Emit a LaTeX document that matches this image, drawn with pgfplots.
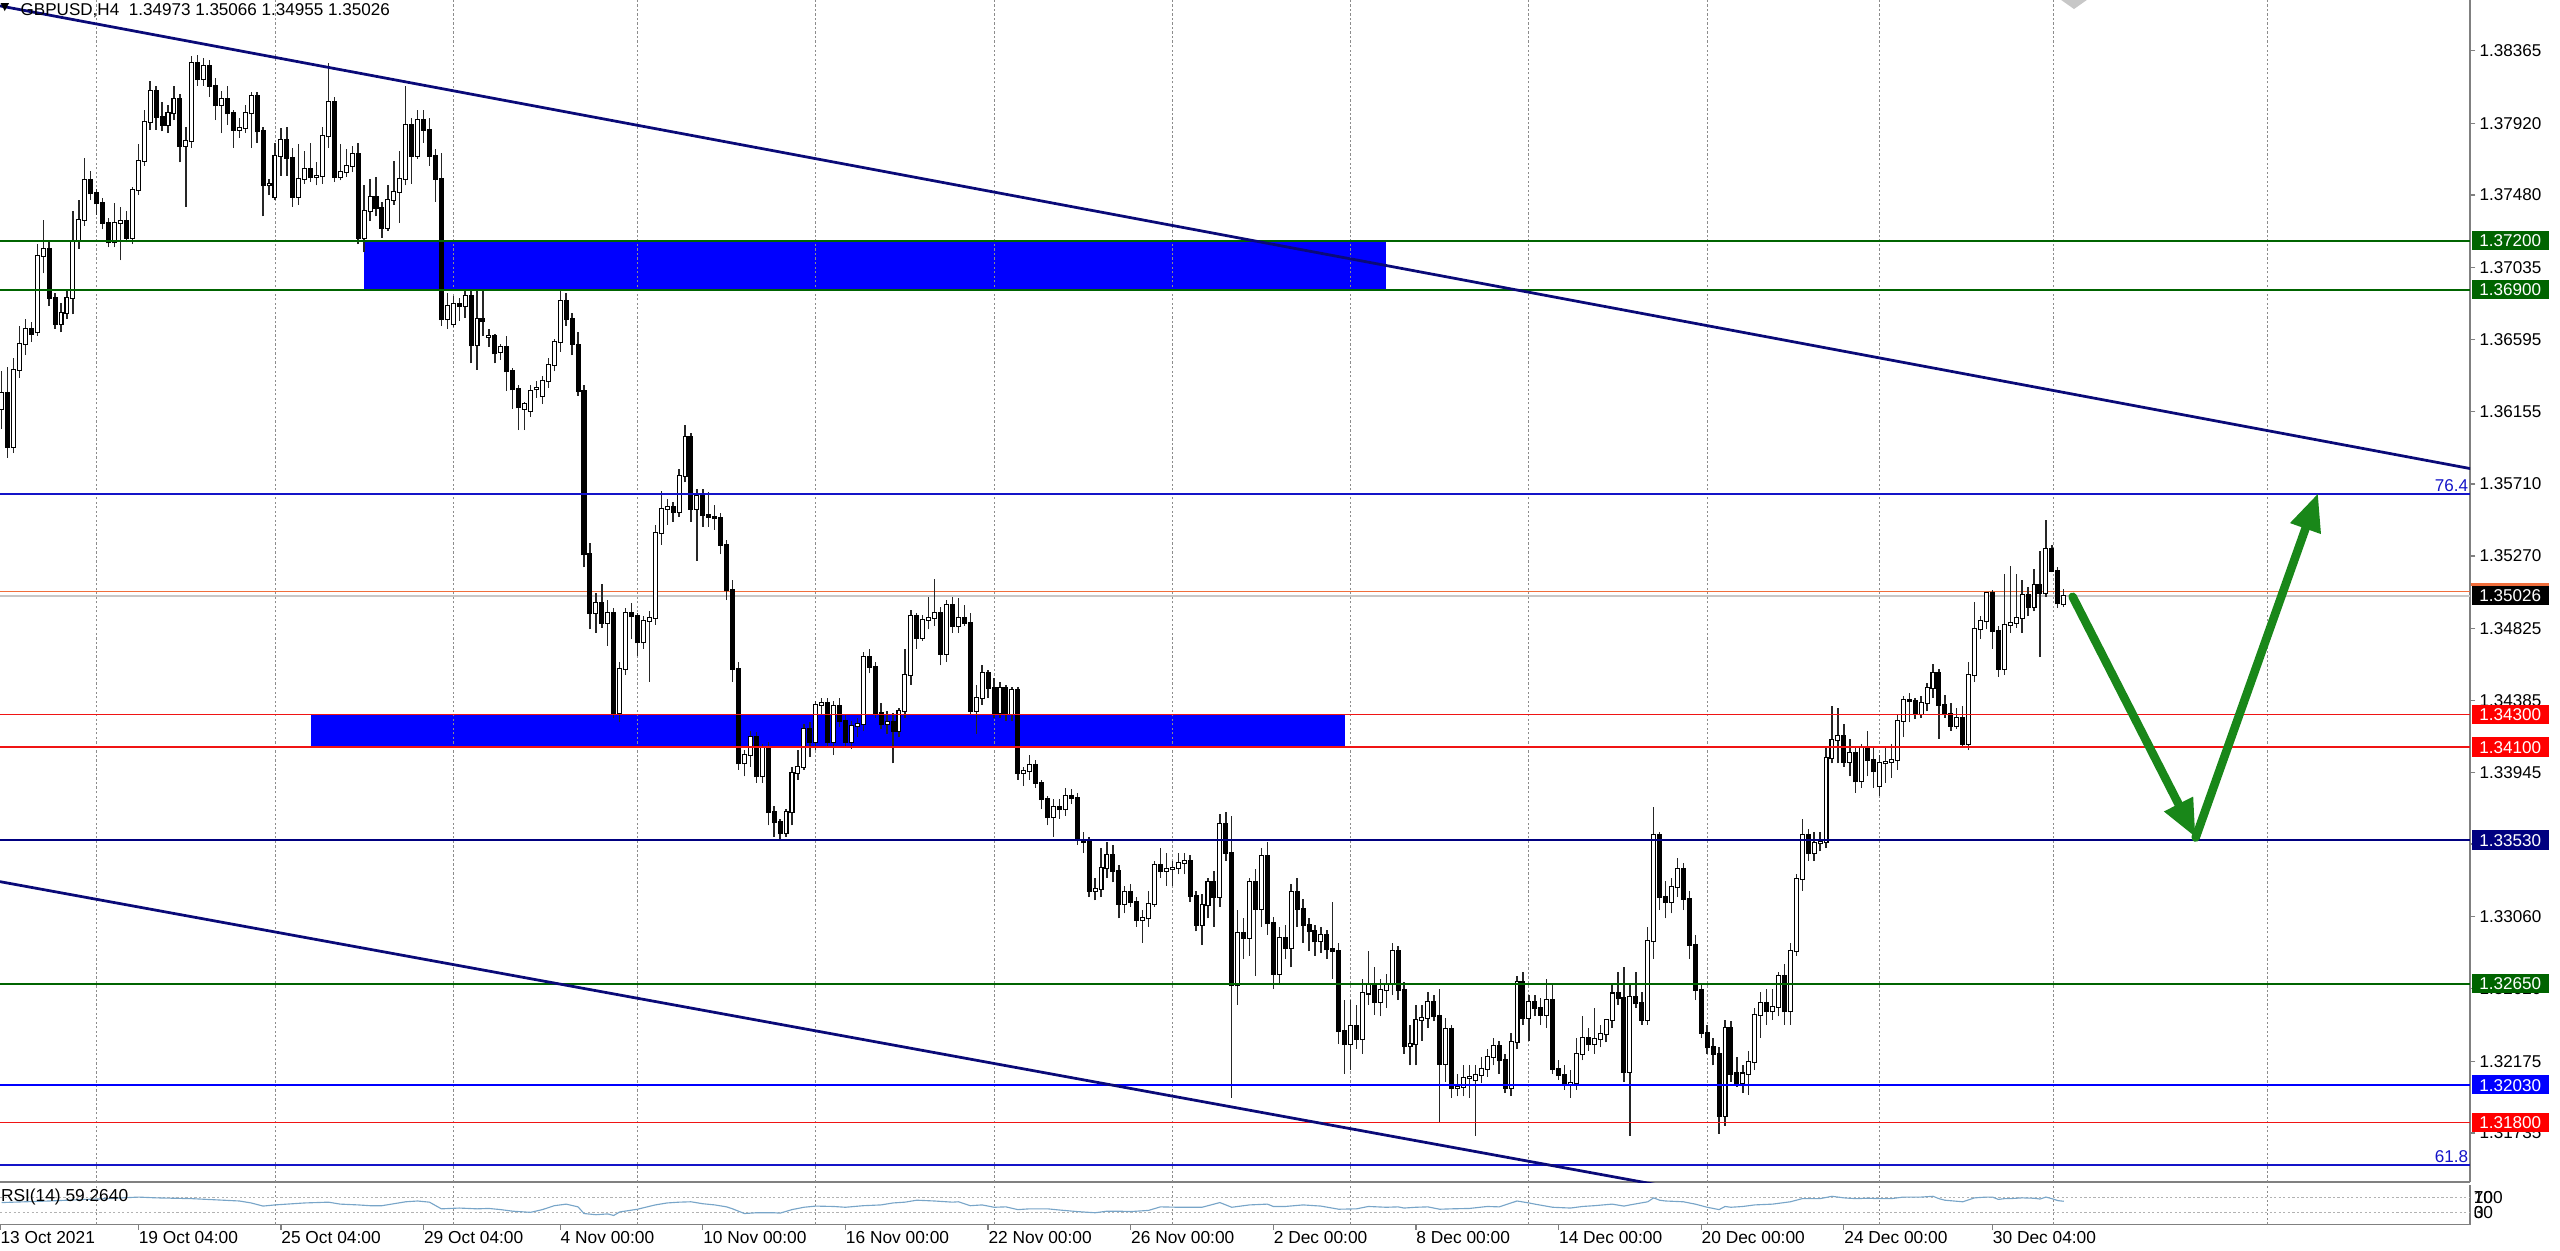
\documentclass[border=0pt]{standalone}
\usepackage{fontspec}
\setmainfont{Liberation Sans}
\usepackage{pgfplots}
\usepackage{pgfplotstable}
\pgfplotsset{compat=1.18}
\usetikzlibrary{arrows.meta}

\definecolor{fxnavy}{RGB}{0,0,128}
\definecolor{trendnavy}{RGB}{10,10,120}
\definecolor{fxgreen}{RGB}{0,100,0}
\definecolor{fxred}{RGB}{240,20,20}
\definecolor{boxred}{RGB}{255,0,0}
\definecolor{fxblue}{RGB}{0,0,255}
\definecolor{fibblue}{RGB}{20,20,200}
\definecolor{arrowgreen}{RGB}{25,135,25}
\definecolor{rsiline}{RGB}{120,165,200}
\definecolor{axisgray}{RGB}{128,128,128}
\definecolor{gridgray}{RGB}{140,140,140}
\definecolor{askorange}{RGB}{240,110,60}

\newcommand\pricefont{\fontsize{6.8}{7.5}\selectfont}
\newcommand\timefont{\fontsize{6.9}{7.5}\selectfont}

\tikzset{
  gridline/.style={gridgray, line width=0.35pt, dash pattern=on 0.9pt off 0.9pt},
  pricebox/.style={anchor=west, xshift=0.4pt, text=white, inner xsep=3pt, inner ysep=0pt,
    minimum height=7.6pt, text height=4.9pt, text depth=0pt, font=\pricefont},
}

% GBPUSD H4 candles, x = bar number
\pgfplotstableread{
i o h l c
0 1.3617 1.3640 1.3605 1.3627
1 1.3627 1.3643 1.3587 1.3594
2 1.3594 1.3648 1.3590 1.3641
3 1.3641 1.3668 1.3636 1.3657
4 1.3657 1.3672 1.3650 1.3666
5 1.3666 1.3670 1.3658 1.3663
6 1.3664 1.3718 1.3662 1.3711
7 1.3711 1.3733 1.3700 1.3715
8 1.3715 1.3720 1.3680 1.3685
9 1.3685 1.3688 1.3666 1.3669
10 1.3669 1.3682 1.3664 1.3676
11 1.3676 1.3690 1.3672 1.3685
12 1.3685 1.3738 1.3675 1.3720
13 1.3720 1.3745 1.3715 1.3733
14 1.3733 1.3771 1.3729 1.3757
15 1.3757 1.3763 1.3745 1.3749
16 1.3749 1.3752 1.3736 1.3743
17 1.3743 1.3746 1.3727 1.3731
18 1.3731 1.3734 1.3716 1.3719
19 1.3719 1.3743 1.3716 1.3731
20 1.3731 1.3741 1.3708 1.3732
21 1.3732 1.3738 1.3719 1.3722
22 1.3722 1.3753 1.3718 1.3751
23 1.3751 1.3779 1.3748 1.3769
24 1.3769 1.3800 1.3766 1.3793
25 1.3793 1.3818 1.3788 1.3812
26 1.3812 1.3815 1.3788 1.3796
27 1.3796 1.3805 1.3787 1.3791
28 1.3791 1.3803 1.3786 1.3798
29 1.3798 1.3815 1.3794 1.3807
30 1.3807 1.3810 1.3768 1.3778
31 1.3778 1.3790 1.3741 1.3781
32 1.3781 1.3833 1.3777 1.3829
33 1.3829 1.3834 1.3815 1.3819
34 1.3819 1.3832 1.3815 1.3827
35 1.3827 1.3831 1.3808 1.3815
36 1.3815 1.3820 1.3794 1.3803
37 1.3803 1.3812 1.3786 1.3807
38 1.3807 1.3815 1.3791 1.3798
39 1.3798 1.3800 1.3777 1.3788
40 1.3788 1.3795 1.3783 1.3789
41 1.3789 1.3803 1.3786 1.3798
42 1.3798 1.3811 1.3777 1.3809
43 1.3809 1.3811 1.3780 1.3787
44 1.3787 1.3790 1.3735 1.3754
45 1.3754 1.3758 1.3748 1.3755
46 1.3747 1.3780 1.3745 1.3772
47 1.3772 1.3789 1.3760 1.3782
48 1.3782 1.3790 1.3760 1.3771
49 1.3771 1.3777 1.3741 1.3747
50 1.3747 1.3779 1.3742 1.3758
51 1.3758 1.3775 1.3755 1.3764
52 1.3764 1.3780 1.3756 1.3759
53 1.3759 1.3768 1.3754 1.3760
54 1.3760 1.3790 1.3755 1.3784
55 1.3784 1.3829 1.3777 1.3805
56 1.3805 1.3808 1.3756 1.3759
57 1.3759 1.3779 1.3757 1.3762
58 1.3762 1.3776 1.3759 1.3766
59 1.3766 1.3778 1.3762 1.3773
60 1.3773 1.3780 1.3718 1.3722
61 1.3722 1.3754 1.3713 1.3738
62 1.3738 1.3758 1.3732 1.3747
63 1.3747 1.3759 1.3735 1.3740
64 1.3740 1.3744 1.3722 1.3728
65 1.3728 1.3754 1.3726 1.3745
66 1.3745 1.3769 1.3742 1.3750
67 1.3750 1.3775 1.3731 1.3758
68 1.3758 1.3815 1.3754 1.3791
69 1.3791 1.3795 1.3755 1.3772
70 1.3772 1.3800 1.3770 1.3794
71 1.3794 1.3800 1.3780 1.3788
72 1.3788 1.3795 1.3766 1.3772
73 1.3772 1.3776 1.3744 1.3758
74 1.3758 1.3774 1.3668 1.3672
75 1.3672 1.3688 1.3666 1.3680
76 1.3669 1.3686 1.3667 1.3681
77 1.3681 1.3685 1.3671 1.3680
78 1.3680 1.3690 1.3673 1.3686
79 1.3686 1.3690 1.3645 1.3656
80 1.3656 1.3690 1.3641 1.3672
81 1.3672 1.3689 1.3662 1.3671
82 1.3661 1.3666 1.3655 1.3662
83 1.3662 1.3663 1.3645 1.3651
84 1.3652 1.3657 1.3647 1.3655
85 1.3655 1.3662 1.3628 1.3640
86 1.3640 1.3642 1.3617 1.3629
87 1.3629 1.3632 1.3604 1.3618
88 1.3617 1.3621 1.3604 1.3620
89 1.3616 1.3632 1.3612 1.3628
90 1.3629 1.3634 1.3624 1.3630
91 1.3625 1.3637 1.3620 1.3634
92 1.3634 1.3648 1.3630 1.3644
93 1.3644 1.3660 1.3640 1.3658
94 1.3658 1.3690 1.3652 1.3683
95 1.3683 1.3688 1.3668 1.3672
96 1.3672 1.3676 1.3650 1.3657
97 1.3656 1.3664 1.3625 1.3628
98 1.3628 1.3632 1.3520 1.3528
99 1.3528 1.3535 1.3482 1.3492
100 1.3492 1.3504 1.3480 1.3498
101 1.3498 1.3510 1.3483 1.3486
102 1.3486 1.3500 1.3472 1.3492
103 1.3492 1.3495 1.3428 1.3431
104 1.3431 1.3462 1.3425 1.3458
105 1.3458 1.3495 1.3454 1.3492
106 1.3492 1.3498 1.3476 1.3490
107 1.3490 1.3492 1.3466 1.3474
108 1.3474 1.3490 1.3470 1.3487
109 1.3487 1.3493 1.3450 1.3489
110 1.3489 1.3546 1.3485 1.3541
111 1.3541 1.3567 1.3534 1.3556
112 1.3556 1.3562 1.3546 1.3557
113 1.3557 1.3560 1.3548 1.3554
114 1.3554 1.3580 1.3551 1.3576
115 1.3576 1.3607 1.3572 1.3600
116 1.3600 1.3602 1.3548 1.3556
117 1.3556 1.3568 1.3524 1.3564
118 1.3564 1.3568 1.3545 1.3552
119 1.3552 1.3566 1.3545 1.3551
120 1.3551 1.3558 1.3543 1.3550
121 1.3550 1.3553 1.3528 1.3534
122 1.3534 1.3537 1.3500 1.3506
123 1.3506 1.3512 1.3450 1.3458
124 1.3458 1.3462 1.3396 1.3400
125 1.3400 1.3408 1.3392 1.3405
126 1.3405 1.3420 1.3398 1.3416
127 1.3416 1.3419 1.3388 1.3392
128 1.3392 1.3412 1.3388 1.3410
129 1.3410 1.3413 1.3362 1.3370
130 1.3370 1.3374 1.3355 1.3364
131 1.3364 1.3366 1.3353 1.3357
132 1.3357 1.3372 1.3355 1.3370
133 1.3370 1.3398 1.3362 1.3394
134 1.3394 1.3408 1.3390 1.3398
135 1.3398 1.3424 1.3396 1.3421
136 1.3421 1.3425 1.3404 1.3413
137 1.3413 1.3438 1.3408 1.3436
138 1.3436 1.3440 1.3430 1.3437
139 1.3437 1.3440 1.3410 1.3413
140 1.3413 1.3438 1.3405 1.3435
141 1.3435 1.3440 1.3422 1.3426
142 1.3426 1.3430 1.3410 1.3413
143 1.3413 1.3426 1.3409 1.3423
144 1.3423 1.3428 1.3416 1.3424
145 1.3424 1.3468 1.3420 1.3465
146 1.3465 1.3470 1.3455 1.3459
147 1.3459 1.3462 1.3428 1.3431
148 1.3431 1.3437 1.3421 1.3424
149 1.3424 1.3432 1.3418 1.3425
150 1.3425 1.3431 1.3400 1.3420
151 1.3420 1.3434 1.3416 1.3432
152 1.3432 1.3470 1.3428 1.3454
153 1.3454 1.3494 1.3448 1.3490
154 1.3490 1.3492 1.3470 1.3477
155 1.3477 1.3491 1.3475 1.3488
156 1.3488 1.3502 1.3482 1.3489
157 1.3489 1.3513 1.3484 1.3492
158 1.3492 1.3496 1.3460 1.3467
159 1.3467 1.3500 1.3462 1.3497
160 1.3497 1.3502 1.3480 1.3484
161 1.3484 1.3501 1.3480 1.3489
162 1.3489 1.3497 1.3484 1.3486
163 1.3486 1.3492 1.3430 1.3432
164 1.3432 1.3448 1.3418 1.3440
165 1.3440 1.3460 1.3436 1.3455
166 1.3455 1.3457 1.3440 1.3446
167 1.3446 1.3452 1.3428 1.3431
168 1.3431 1.3450 1.3428 1.3446
169 1.3446 1.3448 1.3426 1.3430
170 1.3430 1.3447 1.3426 1.3445
171 1.3445 1.3447 1.3390 1.3394
172 1.3394 1.3398 1.3386 1.3395
173 1.3395 1.3405 1.3390 1.3399
174 1.3399 1.3402 1.3385 1.3388
175 1.3388 1.3390 1.3372 1.3378
176 1.3378 1.3380 1.3362 1.3367
177 1.3367 1.3378 1.3355 1.3373
178 1.3373 1.3378 1.3366 1.3372
179 1.3372 1.3385 1.3368 1.3380
180 1.3380 1.3384 1.3375 1.3379
181 1.3379 1.3382 1.3350 1.3353
182 1.3353 1.3358 1.3345 1.3352
183 1.3352 1.3355 1.3318 1.3322
184 1.3322 1.3330 1.3316 1.3323
185 1.3323 1.3348 1.3318 1.3336
186 1.3336 1.3352 1.3330 1.3344
187 1.3344 1.3350 1.3327 1.3334
188 1.3334 1.3338 1.3305 1.3314
189 1.3314 1.3325 1.3308 1.3321
190 1.3321 1.3326 1.3312 1.3315
191 1.3315 1.3318 1.3300 1.3304
192 1.3304 1.3310 1.3290 1.3305
193 1.3305 1.3322 1.3300 1.3314
194 1.3314 1.3340 1.3312 1.3338
195 1.3338 1.3348 1.3330 1.3334
196 1.3334 1.3345 1.3325 1.3335
197 1.3335 1.3340 1.3325 1.3336
198 1.3336 1.3345 1.3332 1.3339
199 1.3339 1.3345 1.3332 1.3340
200 1.3340 1.3344 1.3315 1.3319
201 1.3319 1.3322 1.3297 1.3301
202 1.3301 1.3320 1.3289 1.3313
203 1.3313 1.3330 1.3305 1.3327
204 1.3327 1.3334 1.3300 1.3318
205 1.3318 1.3369 1.3312 1.3363
206 1.3363 1.3370 1.3340 1.3345
207 1.3345 1.3368 1.3195 1.3264
208 1.3264 1.3310 1.3252 1.3296
209 1.3296 1.3305 1.3280 1.3293
210 1.3293 1.3330 1.3282 1.3327
211 1.3327 1.3335 1.3270 1.3311
212 1.3311 1.3348 1.3300 1.3343
213 1.3343 1.3352 1.3295 1.3302
214 1.3302 1.3306 1.3262 1.3271
215 1.3271 1.3300 1.3265 1.3293
216 1.3293 1.3301 1.3280 1.3287
217 1.3287 1.3326 1.3275 1.3321
218 1.3321 1.3330 1.3300 1.3311
219 1.3311 1.3317 1.3290 1.3301
220 1.3301 1.3305 1.3285 1.3297
221 1.3297 1.3301 1.3282 1.3291
222 1.3291 1.3300 1.3284 1.3295
223 1.3295 1.3298 1.3280 1.3286
224 1.3286 1.3315 1.3268 1.3285
225 1.3285 1.3290 1.3228 1.3236
226 1.3236 1.3255 1.3210 1.3228
227 1.3228 1.3255 1.3212 1.3239
228 1.3239 1.3252 1.3225 1.3231
229 1.3231 1.3268 1.3222 1.3259
230 1.3259 1.3285 1.3252 1.3265
231 1.3265 1.3275 1.3246 1.3254
232 1.3254 1.3268 1.3245 1.3261
233 1.3261 1.3271 1.3250 1.3265
234 1.3265 1.3290 1.3258 1.3285
235 1.3285 1.3288 1.3255 1.3261
236 1.3261 1.3266 1.3222 1.3227
237 1.3227 1.3240 1.3215 1.3228
238 1.3228 1.3252 1.3215 1.3243
239 1.3243 1.3252 1.3230 1.3244
240 1.3244 1.3260 1.3238 1.3254
241 1.3254 1.3258 1.3242 1.3245
242 1.3245 1.3262 1.3180 1.3216
243 1.3216 1.3244 1.3205 1.3237
244 1.3237 1.3240 1.3195 1.3201
245 1.3201 1.3210 1.3196 1.3202
246 1.3202 1.3215 1.3196 1.3207
247 1.3207 1.3215 1.3195 1.3208
248 1.3206 1.3215 1.3172 1.3209
249 1.3209 1.3220 1.3204 1.3213
250 1.3213 1.3225 1.3208 1.3220
251 1.3220 1.3232 1.3215 1.3227
252 1.3227 1.3230 1.3210 1.3218
253 1.3218 1.3222 1.3198 1.3201
254 1.3201 1.3235 1.3196 1.3229
255 1.3229 1.3270 1.3225 1.3266
256 1.3266 1.3272 1.3240 1.3244
257 1.3244 1.3258 1.3230 1.3254
258 1.3254 1.3258 1.3245 1.3250
259 1.3250 1.3256 1.3240 1.3246
260 1.3246 1.3268 1.3238 1.3255
261 1.3255 1.3265 1.3210 1.3213
262 1.3213 1.3218 1.3206 1.3209
263 1.3209 1.3215 1.3200 1.3203
264 1.3203 1.3212 1.3195 1.3204
265 1.3204 1.3232 1.3200 1.3222
266 1.3222 1.3245 1.3218 1.3232
267 1.3232 1.3238 1.3224 1.3228
268 1.3228 1.3250 1.3222 1.3231
269 1.3231 1.3240 1.3226 1.3234
270 1.3234 1.3243 1.3229 1.3243
271 1.3243 1.3265 1.3238 1.3259
272 1.3259 1.3272 1.3252 1.3256
273 1.3256 1.3275 1.3205 1.3211
274 1.3211 1.3265 1.3172 1.3257
275 1.3257 1.3272 1.3250 1.3253
276 1.3253 1.3260 1.3240 1.3243
277 1.3243 1.3300 1.3240 1.3291
278 1.3291 1.3373 1.3280 1.3356
279 1.3356 1.3358 1.3310 1.3318
280 1.3318 1.3328 1.3305 1.3315
281 1.3315 1.3330 1.3308 1.3324
282 1.3324 1.3342 1.3318 1.3335
283 1.3335 1.3339 1.3310 1.3317
284 1.3317 1.3322 1.3280 1.3289
285 1.3289 1.3295 1.3255 1.3261
286 1.3261 1.3265 1.3232 1.3235
287 1.3235 1.3240 1.3222 1.3226
288 1.3226 1.3232 1.3215 1.3222
289 1.3222 1.3226 1.3173 1.3184
290 1.3184 1.3243 1.3178 1.3238
291 1.3238 1.3242 1.3205 1.3210
292 1.3210 1.3220 1.3202 1.3204
293 1.3204 1.3215 1.3198 1.3210
294 1.3210 1.3224 1.3197 1.3217
295 1.3217 1.3250 1.3212 1.3246
296 1.3246 1.3260 1.3232 1.3253
297 1.3253 1.3262 1.3240 1.3248
298 1.3248 1.3262 1.3243 1.3251
299 1.3251 1.3272 1.3245 1.3270
300 1.3270 1.3277 1.3240 1.3248
301 1.3248 1.3290 1.3240 1.3285
302 1.3285 1.3332 1.3282 1.3329
303 1.3329 1.3366 1.3322 1.3356
304 1.3356 1.3360 1.3340 1.3345
305 1.3345 1.3358 1.3340 1.3351
306 1.3351 1.3358 1.3346 1.3352
307 1.3352 1.3410 1.3348 1.3403
308 1.3403 1.3435 1.3400 1.3414
309 1.3414 1.3434 1.3400 1.3417
310 1.3417 1.3424 1.3398 1.3401
311 1.3401 1.3415 1.3392 1.3406
312 1.3406 1.3410 1.3382 1.3389
313 1.3389 1.3412 1.3385 1.3410
314 1.3410 1.3420 1.3392 1.3402
315 1.3402 1.3410 1.3385 1.3395
316 1.3386 1.3405 1.3380 1.3400
317 1.3400 1.3410 1.3388 1.3401
318 1.3401 1.3412 1.3391 1.3402
319 1.3402 1.3430 1.3396 1.3426
320 1.3426 1.3441 1.3416 1.3439
321 1.3439 1.3443 1.3425 1.3438
322 1.3438 1.3440 1.3427 1.3430
323 1.3430 1.3441 1.3428 1.3437
324 1.3437 1.3449 1.3432 1.3446
325 1.3446 1.3461 1.3440 1.3455
326 1.3455 1.3458 1.3415 1.3436
327 1.3436 1.3442 1.3428 1.3430
328 1.3430 1.3437 1.3420 1.3423
329 1.3423 1.3434 1.3421 1.3428
330 1.3428 1.3435 1.3410 1.3412
331 1.3412 1.3462 1.3408 1.3454
332 1.3454 1.3499 1.3450 1.3482
333 1.3482 1.3490 1.3476 1.3487
334 1.3487 1.3505 1.3482 1.3504
335 1.3504 1.3506 1.3470 1.3481
336 1.3481 1.3484 1.3453 1.3458
337 1.3458 1.3516 1.3454 1.3485
338 1.3485 1.3521 1.3480 1.3486
339 1.3486 1.3516 1.3483 1.3489
340 1.3489 1.3512 1.3480 1.3503
341 1.3503 1.3508 1.3490 1.3496
342 1.3496 1.3519 1.3493 1.3509
343 1.3509 1.3530 1.3465 1.3504
344 1.3504 1.3549 1.3502 1.3531
345 1.3531 1.3534 1.3517 1.3518
346 1.3518 1.3520 1.3495 1.3498
347 1.34973 1.35066 1.34955 1.35026
}\candles

\begin{document}
\begin{tikzpicture}
\path[use as bounding box] (0,0) rectangle (1019.2pt,-497.9pt);

% ---------------- price window ----------------
\begin{axis}[
  at={(0pt,0pt)}, anchor=north west,
  scale only axis, width=983.45pt, height=470.6pt,
  xmin=-0.27, xmax=415.4, ymin=1.31435, ymax=1.38675,
  axis x line=bottom, axis y line=right, axis line style={-},
  x axis line style={draw=axisgray, line width=1.1pt},
  y axis line style={draw=axisgray, line width=0.65pt},
  xtick=\empty,
  ytick={1.38365,1.37920,1.37480,1.37035,1.36595,1.36155,1.35710,1.35270,1.34825,1.34385,1.33945,1.33505,1.33060,1.32620,1.32175,1.31735},
  yticklabels={1.38365,1.37920,1.37480,1.37035,1.36595,1.36155,1.35710,1.35270,1.34825,1.34385,1.33945,1.33505,1.33060,1.32620,1.32175,1.31735},
  yticklabel style={anchor=west, inner sep=0pt, font=\pricefont, xshift=1.5pt},
  y tick style={draw=axisgray, line width=0.5pt},
  major tick length=2pt, tick align=outside,
  clip mode=individual,
]
% zones
\fill[fxblue] (axis cs:61,1.3690) rectangle (axis cs:233,1.3720);
\fill[fxblue] (axis cs:52,1.3410) rectangle (axis cs:226,1.3430);
% vertical grid
\pgfplotsinvokeforeach{16,46,76,107,137,167,197,227,257,287,316,345.3,381.3}{
  \draw[gridline] (axis cs:#1,1.31435) -- (axis cs:#1,1.38675);
}
% bid / ask lines
\addplot[black!22, line width=0.6pt] coordinates {(-0.27,1.35026) (415.4,1.35026)};
\addplot[askorange, line width=0.4pt] coordinates {(-0.27,1.35052) (415.4,1.35052)};

% candles: wicks, bodies, white fill of up bars
\addplot[draw=none, mark=none, error bars/.cd, y dir=plus, y explicit, error mark=none,
  error bar style={draw=black!85, line width=0.55pt}]
  table[x=i, y=l, y error plus expr=\thisrow{h}-\thisrow{l}] {\candles};
\addplot[draw=none, mark=none, error bars/.cd, y dir=plus, y explicit, error mark=none,
  error bar style={draw=black, line width=2.0pt, shorten <=-0.4pt, shorten >=-0.4pt}]
  table[x=i, y expr={min(\thisrow{o},\thisrow{c})}, y error plus expr={abs(\thisrow{c}-\thisrow{o})}] {\candles};
\addplot[draw=none, mark=none, error bars/.cd, y dir=plus, y explicit, error mark=none,
  error bar style={draw=white, line width=1.15pt}]
  table[x=i, y=o, y error plus expr={max(\thisrow{c}-\thisrow{o},0)}] {\candles};

% horizontal levels
\addplot[fxgreen, line width=0.6pt] coordinates {(-0.27,1.3720) (415.4,1.3720)};
\addplot[fxgreen, line width=0.6pt] coordinates {(-0.27,1.3690) (415.4,1.3690)};
\addplot[fibblue, line width=0.9pt] coordinates {(-0.27,1.3565) (415.4,1.3565)};
\addplot[fxred, line width=0.55pt] coordinates {(-0.27,1.3430) (415.4,1.3430)};
\addplot[fxred, line width=0.55pt] coordinates {(-0.27,1.3410) (415.4,1.3410)};
\addplot[fxnavy, line width=0.5pt] coordinates {(-0.27,1.3353) (415.4,1.3353)};
\addplot[fxgreen, line width=0.85pt] coordinates {(-0.27,1.3265) (415.4,1.3265)};
\addplot[fxblue, line width=0.8pt] coordinates {(-0.27,1.3203) (415.4,1.3203)};
\addplot[fxred, line width=0.6pt] coordinates {(-0.27,1.3180) (415.4,1.3180)};
\addplot[fibblue, line width=0.9pt] coordinates {(-0.27,1.31539) (415.4,1.31539)};

% channel
\addplot[trendnavy, line width=1.1pt] coordinates {(-0.27,1.38639) (415.4,1.35805)};
\addplot[trendnavy, line width=1.1pt] coordinates {(-0.27,1.33275) (280,1.31409)};

% projected path
\draw[arrowgreen, line width=3.4pt, line cap=round, -{Triangle[length=15pt, width=12pt]}]
  (axis cs:348.5,1.3502) -- (axis cs:369.2,1.33545);
\draw[arrowgreen, line width=3.4pt, line cap=round, -{Triangle[length=15pt, width=12pt]}]
  (axis cs:369.2,1.33545) -- (axis cs:389.8,1.35655);

% fibo level texts
\node[anchor=south east, inner sep=0.6pt, text=fibblue, font=\pricefont] at (axis cs:415.4,1.3565) {76.4};
\node[anchor=south east, inner sep=0.6pt, text=fibblue, font=\pricefont] at (axis cs:415.4,1.31539) {61.8};

% price tags on the scale
\node[pricebox, fill=fxgreen] at (axis cs:415.4,1.3720) {1.37200};
\node[pricebox, fill=fxgreen] at (axis cs:415.4,1.3690) {1.36900};
\node[pricebox, fill=black] (cur) at (axis cs:415.4,1.35026) {1.35026};
\fill[askorange] (cur.north west) rectangle ([yshift=1.1pt]cur.north east);
\node[pricebox, fill=boxred] at (axis cs:415.4,1.3430) {1.34300};
\node[pricebox, fill=boxred] at (axis cs:415.4,1.3410) {1.34100};
\node[pricebox, fill=fxnavy] at (axis cs:415.4,1.3353) {1.33530};
\node[pricebox, fill=fxgreen] at (axis cs:415.4,1.3265) {1.32650};
\node[pricebox, fill=fxblue] at (axis cs:415.4,1.3203) {1.32030};
\node[pricebox, fill=boxred] at (axis cs:415.4,1.3180) {1.31800};
\end{axis}

% title and markers
\fill[black] (0.2pt,-1.2pt) -- (3.6pt,-1.2pt) -- (1.9pt,-4.4pt) -- cycle;
\node[anchor=north west, inner sep=0pt, font=\pricefont] at (8pt,-1.2pt) {GBPUSD,H4\ \ 1.34973 1.35066 1.34955 1.35026};
\fill[black!22] (820.6pt,0pt) -- (830.8pt,0pt) -- (825.7pt,-3.6pt) -- cycle;

% ---------------- RSI window ----------------
\begin{axis}[
  at={(0pt,-471.9pt)}, anchor=north west,
  scale only axis, width=983.45pt, height=15.6pt,
  xmin=-0.27, xmax=415.4, ymin=0, ymax=100,
  axis x line=bottom, axis y line=right, axis line style={-},
  x axis line style={draw=axisgray, line width=0.65pt},
  y axis line style={draw=axisgray, line width=0.65pt},
  ytick=\empty,
  xtick={-0.27,23,47,71,94,118,142,166,190,214,238,262,286,310,335},
  xticklabels={13 Oct 2021,19 Oct 04:00,25 Oct 04:00,29 Oct 04:00,4 Nov 00:00,10 Nov 00:00,16 Nov 00:00,22 Nov 00:00,26 Nov 00:00,2 Dec 00:00,8 Dec 00:00,14 Dec 00:00,20 Dec 00:00,24 Dec 00:00,30 Dec 04:00},
  xticklabel style={anchor=north west, inner sep=0pt, font=\timefont, xshift=0pt, yshift=-0.6pt},
  x tick style={draw=axisgray, line width=0.5pt},
  major tick length=2pt, tick align=outside,
  clip mode=individual,
]
\pgfplotsinvokeforeach{16,46,76,107,137,167,197,227,257,287,316,345.3,381.3}{
  \draw[gridline] (axis cs:#1,0) -- (axis cs:#1,100);
}
\draw[black!30, line width=0.35pt, dash pattern=on 0.9pt off 0.9pt] (axis cs:-0.27,70) -- (axis cs:415.4,70);
\draw[black!30, line width=0.35pt, dash pattern=on 0.9pt off 0.9pt] (axis cs:-0.27,30) -- (axis cs:415.4,30);
\addplot[rsiline, line width=0.45pt] coordinates {
(0,56) (4,58) (8,60) (11,62) (14,64) (18,66) (23,70) (26,68) (29,67) (32,66) (36,63) (40,60)
(42,55) (44,47) (46,50) (48,52) (51,55) (55,57) (57,52) (60,50) (62,48) (64,48) (66,53) (68,58)
(70,60) (72,57) (74,40) (77,42) (80,40) (82,41) (84,38) (86,34) (89,31) (91,38) (93,48) (95,52)
(97,45) (98,28) (100,25) (102,27) (103,23) (104,32) (107,39) (110,50) (112,55) (114,57) (116,58)
(118,53) (120,50) (122,45) (123,40) (125,28) (127,30) (130,30) (131,29) (133,38) (135,44) (137,47)
(140,46) (142,44) (145,48) (148,50) (150,55) (152,57) (154,62) (157,60) (160,57) (161,58) (163,48)
(165,50) (167,44) (169,45) (171,38) (173,40) (176,40) (178,37) (181,33) (184,30) (186,34) (188,34)
(190,33) (193,36) (195,45) (198,44) (200,44) (202,44) (205,56) (206,50) (207,44) (210,50) (213,52)
(214,46) (216,46) (219,50) (222,47) (225,39) (228,40) (230,46) (233,44) (235,45) (236,42) (238,44)
(240,45) (242,39) (244,40) (247,41) (250,46) (252,45) (255,60) (257,55) (258,52) (261,44) (264,42)
(266,46) (268,48) (271,52) (273,47) (274,50) (277,58) (278,68) (279,62) (280,60) (283,58) (285,52)
(287,44) (289,38) (290,46) (291,44) (293,46) (295,50) (298,52) (300,56) (301,58) (303,66) (306,66)
(308,72) (310,68) (312,66) (314,67) (316,66) (318,66) (320,70) (323,70) (325,72) (326,66) (327,62)
(330,58) (332,68) (334,70) (335,70) (336,64) (337,66) (338,66) (340,68) (342,67) (343,65) (344,70)
(345,66) (346,61) (347,59.264)
};
\node[anchor=north west, inner sep=0pt, font=\timefont] at (rel axis cs:0,1) [yshift=-1.2pt, xshift=0.2pt] {RSI(14) 59.2640};
\node[anchor=west, inner sep=0pt, font=\timefont] at (axis cs:415.4,70) [xshift=1.2pt] {100};
\node[anchor=west, inner sep=0pt, font=\timefont] at (axis cs:415.4,70) [xshift=1.2pt] {70};
\node[anchor=west, inner sep=0pt, font=\timefont] at (axis cs:415.4,30) [xshift=1.2pt] {30};
\node[anchor=west, inner sep=0pt, font=\timefont] at (axis cs:415.4,30) [xshift=1.2pt] {0};
\end{axis}
\end{tikzpicture}
\end{document}
